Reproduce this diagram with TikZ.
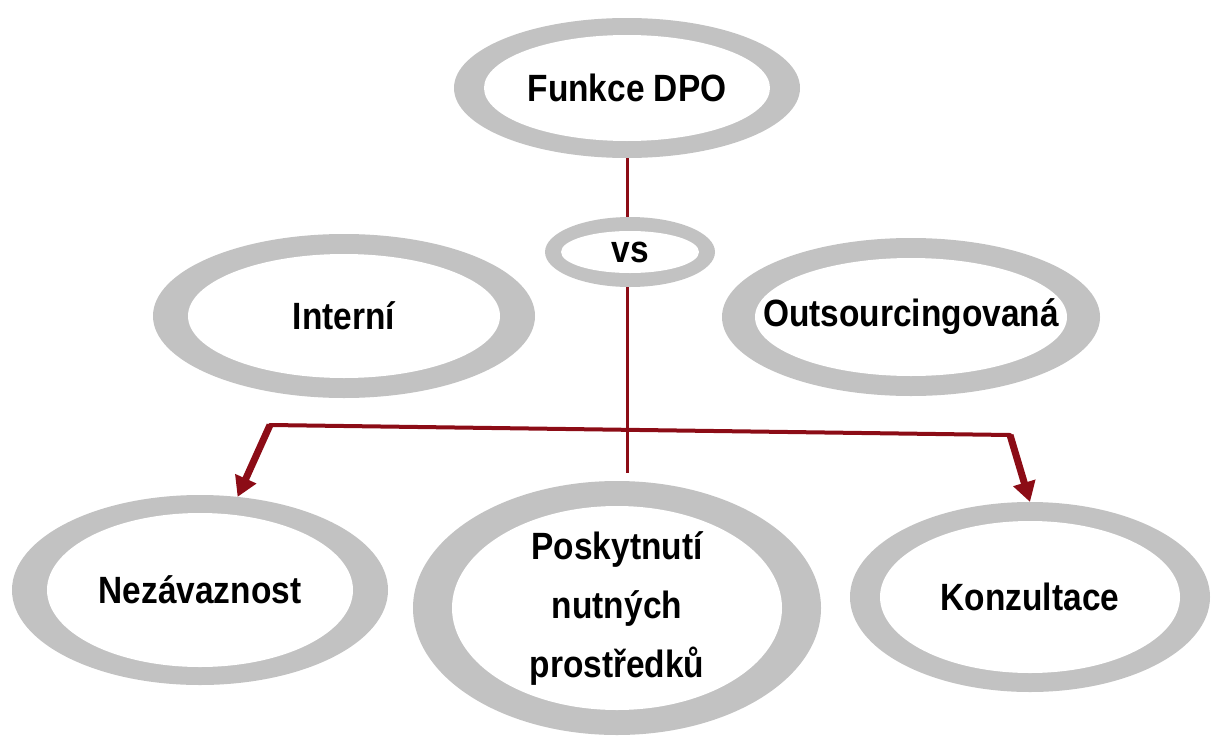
\documentclass[tikz,border=0pt]{standalone}
\usepackage{fontspec}
\setmainfont{Liberation Sans}[FakeStretch=0.88]
\usepackage{tikz}
\usetikzlibrary{shapes.geometric,arrows.meta}

\definecolor{ringgray}{RGB}{194,194,194}
\definecolor{linered}{RGB}{140,12,22}

\tikzset{
	ring/.style n args={4}{shape=ellipse, fill=ringgray, inner xsep=-20pt, inner ysep=0pt, outer sep=0pt,
		minimum width=#1, minimum height=#2, align=center,
		font=\bfseries\fontsize{38}{59}\selectfont,
		path picture={\fill[white] (path picture bounding box.center) ellipse [x radius=#1/2-#3, y radius=#2/2-#4];}},
	stem/.style={draw=linered, line width=3pt},
	bar/.style={draw=linered, line width=4pt, line cap=round},
	pointer/.style={draw=linered, line width=7pt, -{Triangle[length=20pt,width=22pt]}},
}

\begin{document}
\begin{tikzpicture}[x=1pt, y=-1pt]
	
	\useasboundingbox (0,0) rectangle (1212,736);
	
	\node[ring={346pt}{140pt}{30pt}{17pt}] (dpo)    at (627, 88)  {Funkce DPO};
	\node[ring={170pt}{70pt}{16pt}{14pt}]  (vs)     at (630, 252) {vs};
	\node[ring={382pt}{164pt}{35pt}{20pt}] (interni) at (344, 316) {Interní};
	\node[ring={378pt}{158pt}{33pt}{20pt}] (outs)   at (911, 317) {Outsourcingovaná};
	\node[ring={376pt}{190pt}{35pt}{18pt}] (nezav)  at (200, 590) {Nezávaznost};
	\node[ring={408pt}{254pt}{39pt}{25pt}] (posk)   at (617, 608) {Poskytnutí\\nutných\\prostředků};
	\node[ring={360pt}{190pt}{30pt}{19pt}] (konz)   at (1030, 597) {Konzultace};
	
	\coordinate (foot)  at (627, 473);
	\coordinate (left)  at (270, 425);
	\coordinate (right) at (1010, 435);
	
	\path[stem] (dpo.south) -- (dpo.south |- vs.north);
	\path[stem] (foot |- vs.south) -- (foot);
	\path[bar] (left) -- (right);
	\path[pointer] (left) -- (nezav.68);
	\path[pointer] (right) -- (konz.north);
	
\end{tikzpicture}
\end{document}
